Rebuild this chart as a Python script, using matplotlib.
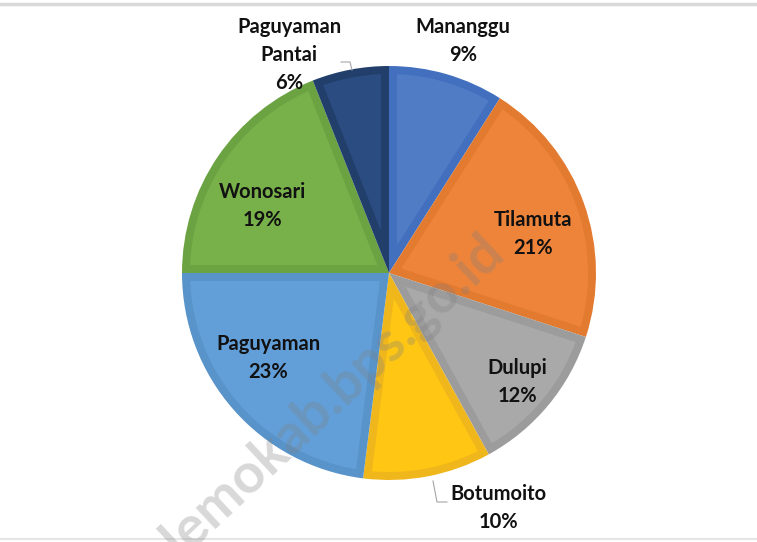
"""Pie chart: share per kecamatan (Boalemo)."""

import matplotlib

matplotlib.use("Agg")
import matplotlib.pyplot as plt
import numpy as np
from matplotlib.patches import Polygon

LABELS = ["Mananggu", "Tilamuta", "Dulupi", "Botumoito", "Paguyaman", "Wonosari", "Paguyaman\nPantai"]
SHARES = [9, 21, 12, 10, 23, 19, 6]

FILL_COLORS = ["#4f7cc4", "#ee843a", "#a9a9a9", "#ffc713", "#629fd8", "#78b04a", "#2a4c80"]
EDGE_COLORS = ["#4370be", "#e27a30", "#9c9c9c", "#f0b71c", "#5893c9", "#6ba342", "#223f6c"]

# label centres in pixel coords (x, y from top)
LABEL_POS = [(463, 41), (533, 234), (517, 382), (498, 508), (268, 358), (262, 206), (289, 55)]

W, H = 757, 542
CX, CY, R = 389, 273, 207
BORDER = 8  # inner border width, px


def inset_wedge(wedge, d):
    """Polygon of the wedge shrunk inwards by d (data units)."""
    cx, cy = wedge.center
    t1, t2 = np.radians(wedge.theta1), np.radians(wedge.theta2)
    half = (t2 - t1) / 2
    apex_r = d / np.sin(half)
    mid = t1 + half
    rho = wedge.r - d
    delta = np.arcsin(d / rho)
    arc = np.linspace(t1 + delta, t2 - delta, 80)
    xs = np.concatenate([[cx + apex_r * np.cos(mid)], cx + rho * np.cos(arc)])
    ys = np.concatenate([[cy + apex_r * np.sin(mid)], cy + rho * np.sin(arc)])
    return np.column_stack([xs, ys])


fig = plt.figure(figsize=(W / 100, H / 100), dpi=100)
ax = fig.add_axes([0, 0, 1, 1])

wedges, _ = ax.pie(
    SHARES,
    colors=EDGE_COLORS,
    startangle=90,
    counterclock=False,
    center=(CX, H - CY),
    radius=R,
    frame=True,
)
for w, fc in zip(wedges, FILL_COLORS):
    ax.add_patch(Polygon(inset_wedge(w, BORDER), closed=True, facecolor=fc, edgecolor="none"))

for lab, val, (x, y) in zip(LABELS, SHARES, LABEL_POS):
    ax.text(x, H - y, f"{lab}\n{val}%", ha="center", va="center", fontsize=14.5,
            fontweight="bold", family="Lato", linespacing=1.5, color="#111111")

# leader lines
ax.plot([341, 350, 352], [H - 62, H - 62, H - 70], color="#a6a6a6", lw=0.8)
ax.plot([433, 437, 447], [H - 481, H - 502, H - 502], color="#a6a6a6", lw=0.8)

# frame lines
ax.axhline(H - 4, color="#d9d9d9", lw=2.5)
ax.axhline(H - 539, color="#e6e6e6", lw=1.5)

# watermark
ax.text(506, H - 254, "boalemokab.bps.go.id", rotation=43, rotation_mode="anchor",
        ha="right", va="baseline", fontsize=40, fontweight="bold", family="Lato",
        color="#7f7f7f", alpha=0.3)

ax.set_xlim(0, W)
ax.set_ylim(0, H)
ax.axis("off")

fig.savefig("out.png", dpi=100)
